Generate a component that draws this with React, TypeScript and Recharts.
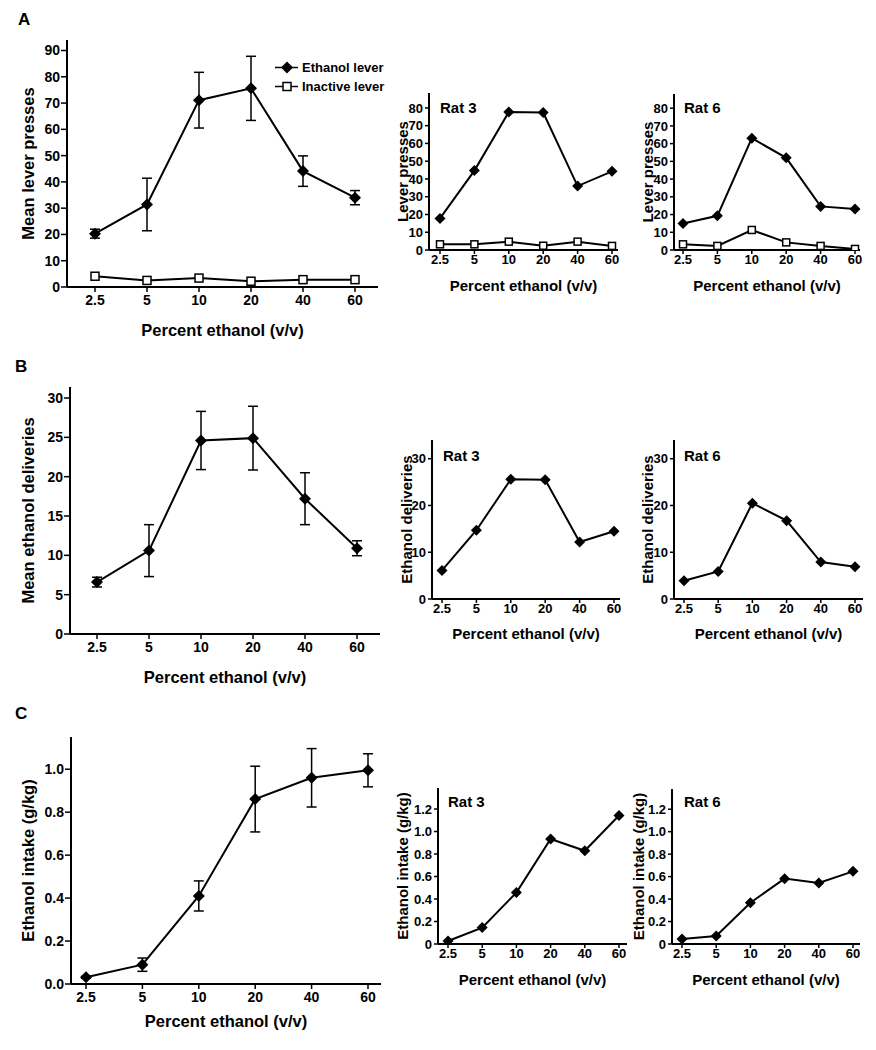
import React from "react";
import { LineChart, Line, XAxis, YAxis, ErrorBar, Label, Legend } from "recharts";

const FONT = '"Liberation Sans", Arial, Helvetica, sans-serif';

// ethanol concentration (% v/v), shared x categories
const conc = ["2.5", "5", "10", "20", "40", "60"];

// A: lever presses
const pressEthanol = [20.3, 31.4, 71.1, 75.6, 44.1, 34.0];
const pressEthanolSem = [1.7, 10.0, 10.6, 12.2, 5.8, 2.7];
const pressInactive = [4.1, 2.5, 3.4, 2.2, 2.8, 2.8];
const rat3PressEthanol = [17.8, 44.7, 77.7, 77.4, 36.0, 44.3];
const rat3PressInactive = [3.2, 3.2, 4.7, 2.4, 4.7, 2.3];
const rat6PressEthanol = [15.0, 19.3, 63.1, 52.0, 24.6, 23.1];
const rat6PressInactive = [3.2, 2.3, 11.3, 4.3, 2.3, 0.6];

// B: ethanol deliveries
const deliveries = [6.6, 10.6, 24.6, 24.9, 17.2, 10.9];
const deliveriesSem = [0.62, 3.3, 3.7, 4.05, 3.3, 0.95];
const rat3Deliveries = [6.1, 14.7, 25.6, 25.5, 12.2, 14.5];
const rat6Deliveries = [3.9, 5.9, 20.5, 16.75, 7.9, 6.9];

// C: ethanol intake (g/kg)
const intake = [0.031, 0.09, 0.41, 0.861, 0.96, 0.995];
const intakeSem = [0.004, 0.031, 0.07, 0.153, 0.136, 0.077];
const rat3Intake = [0.027, 0.146, 0.457, 0.933, 0.829, 1.143];
const rat6Intake = [0.045, 0.071, 0.368, 0.582, 0.544, 0.647];

// tick labels
const ticksA = [0, 10, 20, 30, 40, 50, 60, 70, 80, 90];
const ticksRatA = [0, 10, 20, 30, 40, 50, 60, 70, 80];
const ticksB = [0, 5, 10, 15, 20, 25, 30];
const ticksRatB = [0, 10, 20, 30];
const ticksC = [0, 0.2, 0.4, 0.6, 0.8, 1.0];
const ticksRatC = [0, 0.2, 0.4, 0.6, 0.8, 1.0, 1.2];

type Series = { name: string; values: number[]; sem?: number[]; open?: boolean };

type PanelProps = {
  left: number;
  top: number;
  w: number;
  h: number;
  domain: [number, number];
  ticks: number[];
  fmt?: (v: number) => string;
  padL: number;
  padR: number;
  series: Series[];
  yTitle: string;
  yTitleX: number;
  small?: boolean;
  xTitleDy: number;
  legend?: boolean;
};

const diamond = (r: number) => (props: any) => {
  const { cx, cy, index } = props;
  if (cx == null || cy == null) return <g key={index} />;
  return (
    <path
      key={index}
      d={`M${cx},${cy - r}L${cx + r},${cy}L${cx},${cy + r}L${cx - r},${cy}Z`}
      fill="#000"
    />
  );
};

const square = (s: number) => (props: any) => {
  const { cx, cy, index } = props;
  if (cx == null || cy == null) return <g key={index} />;
  return (
    <rect
      key={index}
      x={cx - s / 2}
      y={cy - s / 2}
      width={s}
      height={s}
      fill="#fff"
      stroke="#000"
      strokeWidth={1.5}
    />
  );
};

const renderLegend = (props: any) => (
  <div style={{ fontSize: 13, fontWeight: 700, color: "#000" }}>
    {(props.payload || []).map((entry: any, i: number) => (
      <div key={i} style={{ display: "flex", alignItems: "center", height: 19 }}>
        <svg width={27} height={19}>
          <line x1={0} y1={9.5} x2={23} y2={9.5} stroke="#000" strokeWidth={1.5} />
          {i === 0 ? (
            <path d="M12,3.5L18,9.5L12,15.5L6,9.5Z" fill="#000" />
          ) : (
            <rect x={8} y={5.5} width={8} height={8} fill="#fff" stroke="#000" strokeWidth={1.5} />
          )}
        </svg>
        <span>{entry.value}</span>
      </div>
    ))}
  </div>
);

function Panel(p: PanelProps) {
  const ML = 60;
  const MT = 12;
  const MR = 14;
  const MB = 52;
  const chartLeft = p.left - ML;
  const chartTop = p.top - MT;
  const titleSize = p.small ? 15 : 16.5;
  const fs = p.small ? 13 : 14;
  const tickText = {
    fill: "#000",
    fontSize: fs,
    fontWeight: 700,
    style: { fontSize: fs, fontWeight: 700 },
  };
  const data = conc.map((c, i) => {
    const row: any = { conc: c };
    p.series.forEach((s, k) => {
      row[`s${k}`] = s.values[i];
      if (s.sem) row[`e${k}`] = s.sem[i];
    });
    return row;
  });
  const yx = p.yTitleX - chartLeft;
  const yy = MT + p.h / 2;
  return (
    <div style={{ position: "absolute", left: chartLeft, top: chartTop }}>
      <LineChart
        width={ML + p.w + MR}
        height={MT + p.h + MB}
        data={data}
        margin={{ top: MT, right: MR, left: 0, bottom: 0 }}
      >
        <XAxis
          dataKey="conc"
          height={MB}
          padding={{ left: p.padL, right: p.padR }}
          interval={0}
          tickSize={p.small ? 4 : 5}
          tickMargin={p.small ? 1 : 3}
          axisLine={{ stroke: "#000", strokeWidth: 2 }}
          tickLine={{ stroke: "#000", strokeWidth: 1.5 }}
          tick={tickText}
          fontSize={fs}
          fontWeight={700}
        >
          <Label
            content={() => (
              <text
                x={ML + p.w / 2}
                y={MT + p.h + p.xTitleDy}
                textAnchor="middle"
                dominantBaseline="central"
                fontSize={titleSize}
                fontWeight={700}
                fill="#000"
              >
                Percent ethanol (v/v)
              </text>
            )}
          />
        </XAxis>
        <YAxis
          width={ML}
          domain={p.domain}
          ticks={p.ticks}
          tickFormatter={p.fmt}
          interval={0}
          allowDataOverflow
          tickSize={p.small ? 4 : 6}
          tickMargin={p.small ? 2 : 1}
          axisLine={{ stroke: "#000", strokeWidth: 2 }}
          tickLine={{ stroke: "#000", strokeWidth: 1.5 }}
          tick={tickText}
          fontSize={fs}
          fontWeight={700}
        >
          <Label
            content={() => (
              <text
                x={yx}
                y={yy}
                transform={`rotate(-90 ${yx} ${yy})`}
                textAnchor="middle"
                dominantBaseline="central"
                fontSize={titleSize}
                fontWeight={700}
                fill="#000"
              >
                {p.yTitle}
              </text>
            )}
          />
        </YAxis>
        {p.series.map((s, k) => (
          <Line
            key={k}
            type="linear"
            dataKey={`s${k}`}
            name={s.name}
            stroke="#000"
            strokeWidth={2}
            dot={s.open ? square(p.small ? 7 : 8) : diamond(p.small ? 5.5 : 6)}
            activeDot={false}
            isAnimationActive={false}
          >
            {s.sem && (
              <ErrorBar
                dataKey={`e${k}`}
                width={5}
                strokeWidth={1.5}
                stroke="#000"
                direction="y"
                isAnimationActive={false}
              />
            )}
          </Line>
        ))}
        {p.legend && (
          <Legend
            layout="vertical"
            align="center"
            verticalAlign="middle"
            wrapperStyle={{ left: 275 - chartLeft, top: 58 - chartTop, width: 120 }}
            content={renderLegend}
          />
        )}
      </LineChart>
    </div>
  );
}

const oneDec = (v: number) => v.toFixed(1);
const ratDec = (v: number) => (v === 0 ? "0" : v.toFixed(1));

const letter = (t: string, left: number, top: number) => (
  <div style={{ position: "absolute", left, top, fontSize: 17, fontWeight: 700, lineHeight: "17px" }}>
    {t}
  </div>
);

const ratNote = (t: string, left: number, top: number) => (
  <div style={{ position: "absolute", left, top, fontSize: 15, fontWeight: 700, lineHeight: "15px" }}>
    {t}
  </div>
);

export default function App() {
  return (
    <div
      style={{
        position: "absolute",
        left: 0,
        top: 0,
        width: 876,
        height: 1050,
        background: "#fff",
        fontFamily: FONT,
        color: "#000",
        overflow: "hidden",
      }}
    >
      {letter("A", 18, 11)}
      {letter("B", 15, 358)}
      {letter("C", 15, 705)}

      <Panel
        left={67} top={40} w={311} h={247}
        domain={[0, 94]} ticks={ticksA} padL={28} padR={23}
        series={[
          { name: "Ethanol lever", values: pressEthanol, sem: pressEthanolSem },
          { name: "Inactive lever", values: pressInactive, open: true },
        ]}
        yTitle="Mean lever presses" yTitleX={28} xTitleDy={43} legend
      />
      <Panel
        left={429} top={93} w={189} h={157}
        domain={[0, 88.4]} ticks={ticksRatA} padL={11} padR={6}
        series={[
          { name: "Ethanol lever", values: rat3PressEthanol },
          { name: "Inactive lever", values: rat3PressInactive, open: true },
        ]}
        yTitle="Lever presses" yTitleX={402} xTitleDy={35} small
      />
      <Panel
        left={674} top={94} w={186} h={156}
        domain={[0, 88]} ticks={ticksRatA} padL={9} padR={5}
        series={[
          { name: "Ethanol lever", values: rat6PressEthanol },
          { name: "Inactive lever", values: rat6PressInactive, open: true },
        ]}
        yTitle="Lever presses" yTitleX={647} xTitleDy={35} small
      />
      {ratNote("Rat 3", 440, 100)}
      {ratNote("Rat 6", 684, 100)}

      <Panel
        left={70} top={387} w={310} h={247}
        domain={[0, 31.4]} ticks={ticksB} padL={27} padR={23}
        series={[{ name: "Ethanol deliveries", values: deliveries, sem: deliveriesSem }]}
        yTitle="Mean ethanol deliveries" yTitleX={28} xTitleDy={43}
      />
      <Panel
        left={432} top={440} w={188} h={159}
        domain={[0, 34]} ticks={ticksRatB} padL={10} padR={6}
        series={[{ name: "Ethanol deliveries", values: rat3Deliveries }]}
        yTitle="Ethanol deliveries" yTitleX={406} xTitleDy={34} small
      />
      <Panel
        left={674} top={440} w={189} h={159}
        domain={[0, 34]} ticks={ticksRatB} padL={10} padR={8}
        series={[{ name: "Ethanol deliveries", values: rat6Deliveries }]}
        yTitle="Ethanol deliveries" yTitleX={647} xTitleDy={34} small
      />
      {ratNote("Rat 3", 443, 448)}
      {ratNote("Rat 6", 684, 448)}

      <Panel
        left={71} top={737} w={310} h={247}
        domain={[0, 1.15]} ticks={ticksC} fmt={oneDec} padL={15} padR={13}
        series={[{ name: "Ethanol intake", values: intake, sem: intakeSem }]}
        yTitle="Ethanol intake (g/kg)" yTitleX={28} xTitleDy={37}
      />
      <Panel
        left={438} top={788} w={189} h={156}
        domain={[0, 1.387]} ticks={ticksRatC} fmt={ratDec} padL={10} padR={8}
        series={[{ name: "Ethanol intake", values: rat3Intake }]}
        yTitle="Ethanol intake (g/kg)" yTitleX={402} xTitleDy={35} small
      />
      <Panel
        left={672} top={789} w={188} h={155}
        domain={[0, 1.38]} ticks={ticksRatC} fmt={ratDec} padL={10} padR={7}
        series={[{ name: "Ethanol intake", values: rat6Intake }]}
        yTitle="Ethanol intake (g/kg)" yTitleX={638} xTitleDy={35} small
      />
      {ratNote("Rat 3", 448, 794)}
      {ratNote("Rat 6", 684, 794)}
    </div>
  );
}
